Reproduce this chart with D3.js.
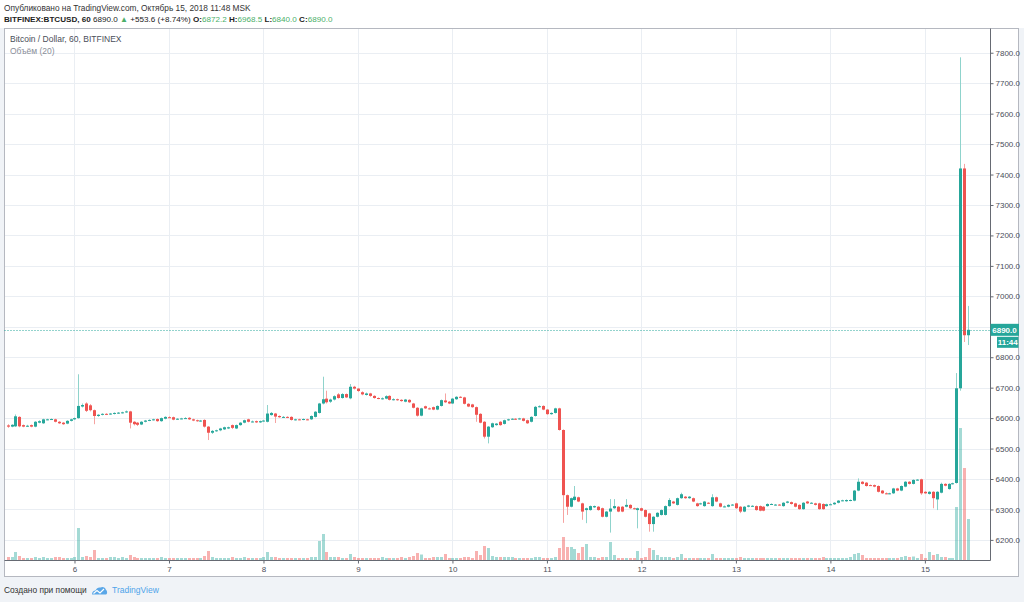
<!DOCTYPE html>
<html><head><meta charset="utf-8">
<script src="https://cdn.jsdelivr.net/npm/d3@7"></script>
<style>
html,body{margin:0;padding:0;background:#f1f3f6;}
svg{display:block;font-family:"Liberation Sans",Arial,sans-serif;}
</style></head><body>
<svg id="chart" width="1024" height="602"></svg>
<script>
// ---- DATA (hourly candles, BITFINEX:BTCUSD, 60) ----
const startUTC = Date.UTC(2018, 9, 5, 7); // first candle: Oct 5, 07:00
const openV = [
6576,6572,6573,6604,6577,6574,6577,6572,6585,6583,
6595,6596,6596,6588,6585,6582,6591,6596,6600,6638,
6648,6642,6626,6607,6611,6614,6613,6615,6616,6618,
6620,6622,6588,6585,6579,6588,6592,6594,6597,6590,
6598,6603,6603,6596,6598,6599,6601,6596,6593,6590,
6594,6572,6552,6558,6560,6563,6566,6577,6566,6577,
6585,6596,6588,6590,6586,6590,6588,6610,6615,6607,
6603,6604,6604,6594,6596,6595,6596,6596,6604,6617,
6648,6664,6654,6661,6678,6666,6679,6665,6703,6697,
6685,6676,6681,6673,6666,6664,6664,6673,6661,6662,
6660,6654,6660,6648,6634,6608,6639,6632,6636,6628,
6640,6658,6654,6648,6662,6670,6668,6647,6645,6636,
6614,6588,6539,6570,6577,6588,6581,6593,6596,6598,
6597,6599,6593,6588,6607,6637,6640,6628,6613,6617,
6632,6561,6347,6309,6331,6340,6320,6298,6298,6307,
6309,6304,6276,6293,6304,6309,6309,6309,6315,6304,
6298,6304,6298,6287,6252,6276,6282,6282,6311,6326,
6315,6337,6342,6337,6337,6320,6318,6311,6322,6311,
6340,6320,6309,6309,6315,6320,6309,6293,6309,6311,
6311,6311,6309,6311,6317,6315,6316,6311,6322,6324,
6320,6315,6301,6326,6322,6320,6320,6318,6311,6317,
6317,6322,6329,6327,6329,6329,6362,6391,6388,6380,
6380,6377,6362,6353,6352,6353,6369,6362,6375,6391,
6384,6397,6399,6358,6351,6358,6333,6355,6384,6367,
6384,6387,6698,7420,6872.2];
const highV = [
6580,6580,6612,6606,6579,6578,6579,6590,6593,6598,
6598,6599,6598,6590,6587,6593,6598,6602,6744,6648,
6652,6646,6628,6613,6616,6616,6617,6619,6620,6621,
6625,6624,6590,6587,6590,6594,6596,6598,6599,6602,
6606,6606,6605,6600,6601,6603,6603,6598,6595,6594,
6596,6574,6561,6562,6568,6572,6572,6579,6579,6587,
6595,6598,6592,6592,6592,6594,6643,6620,6617,6609,
6607,6606,6606,6598,6598,6599,6598,6609,6623,6650,
6736,6690,6664,6675,6682,6682,6681,6712,6706,6699,
6688,6684,6683,6675,6668,6668,6675,6675,6665,6664,
6662,6663,6662,6650,6636,6634,6641,6635,6638,6642,
6661,6681,6656,6666,6672,6672,6670,6649,6647,6638,
6616,6590,6574,6585,6584,6590,6595,6598,6600,6600,
6601,6601,6595,6606,6640,6642,6642,6630,6619,6634,
6634,6563,6349,6339,6377,6342,6322,6306,6313,6313,
6311,6306,6295,6334,6334,6311,6311,6334,6317,6306,
6306,6306,6300,6289,6278,6291,6300,6313,6337,6328,
6339,6355,6344,6344,6339,6322,6322,6328,6324,6350,
6342,6322,6313,6317,6318,6322,6311,6311,6315,6314,
6313,6313,6311,6320,6320,6318,6318,6324,6328,6326,
6322,6317,6324,6328,6324,6322,6322,6320,6319,6320,
6324,6331,6332,6333,6333,6364,6402,6393,6390,6382,
6382,6379,6364,6356,6355,6371,6371,6379,6393,6393,
6399,6400,6401,6360,6360,6360,6360,6388,6386,6386,
6388,6748,7785,7435,6968.5];
const lowV = [
6568,6570,6571,6570,6570,6571,6570,6570,6583,6581,
6593,6594,6586,6581,6578,6580,6589,6594,6598,6635,
6620,6622,6580,6604,6609,6610,6611,6612,6614,6615,
6617,6566,6576,6574,6577,6586,6590,6592,6588,6588,
6596,6600,6593,6594,6596,6597,6594,6590,6588,6588,
6569,6528,6548,6555,6557,6561,6564,6564,6564,6575,
6583,6586,6586,6584,6584,6588,6586,6608,6584,6601,
6601,6600,6592,6592,6593,6593,6593,6594,6602,6615,
6645,6648,6650,6658,6664,6664,6666,6662,6694,6686,
6675,6674,6670,6664,6662,6661,6662,6658,6658,6657,
6654,6652,6650,6632,6605,6606,6630,6628,6626,6626,
6638,6650,6646,6646,6660,6666,6645,6636,6634,6588,
6583,6533,6517,6568,6575,6575,6579,6591,6594,6594,
6595,6589,6581,6586,6605,6635,6626,6611,6611,6615,
6559,6256,6282,6307,6329,6324,6266,6255,6296,6305,
6296,6274,6274,6224,6302,6291,6291,6307,6302,6300,
6238,6294,6274,6227,6227,6274,6280,6280,6309,6318,
6313,6335,6335,6335,6324,6309,6316,6309,6318,6309,
6324,6307,6307,6307,6313,6302,6288,6291,6307,6309,
6296,6294,6294,6309,6315,6313,6313,6309,6320,6316,
6307,6299,6299,6318,6320,6313,6299,6299,6309,6315,
6315,6320,6327,6325,6327,6327,6360,6382,6375,6377,
6373,6356,6351,6350,6350,6351,6360,6360,6373,6382,
6382,6395,6348,6351,6349,6304,6298,6353,6376,6365,
6382,6385,6690,6850,6840];
const closeV = [
6572,6578,6606,6573,6572,6575,6572,6588,6590,6596,
6596,6597,6588,6583,6580,6591,6596,6600,6640,6643,
6624,6626,6607,6611,6614,6613,6615,6617,6618,6619,
6622,6585,6580,6578,6588,6592,6594,6596,6590,6600,
6604,6602,6595,6598,6599,6600,6596,6592,6590,6592,
6572,6552,6558,6560,6566,6570,6570,6568,6577,6585,
6593,6588,6589,6586,6590,6592,6615,6617,6605,6603,
6604,6603,6594,6596,6595,6597,6595,6607,6621,6648,
6662,6652,6661,6672,6666,6679,6668,6703,6697,6689,
6678,6681,6673,6666,6664,6665,6672,6660,6662,6660,
6656,6661,6652,6634,6608,6632,6632,6630,6628,6640,
6659,6652,6648,6664,6670,6668,6647,6638,6636,6611,
6585,6539,6572,6583,6582,6577,6593,6596,6598,6596,
6599,6591,6583,6604,6637,6639,6628,6613,6617,6632,
6561,6347,6309,6337,6342,6326,6293,6304,6311,6311,
6298,6276,6293,6303,6311,6293,6293,6315,6304,6302,
6304,6296,6276,6252,6276,6289,6298,6311,6331,6320,
6337,6350,6337,6342,6326,6311,6320,6326,6320,6340,
6326,6309,6310,6315,6316,6304,6293,6309,6313,6312,
6298,6296,6296,6318,6318,6316,6315,6322,6326,6318,
6309,6301,6322,6320,6322,6315,6301,6301,6317,6317,
6322,6329,6330,6331,6331,6362,6391,6384,6377,6379,
6375,6358,6353,6352,6353,6369,6362,6377,6391,6384,
6397,6398,6353,6353,6358,6337,6358,6384,6378,6384,
6386,6698,7420,6872.2,6890];
const volumeV = [
120,120,320,160,80,80,80,120,80,120,
80,80,120,120,80,80,80,120,1280,120,
160,120,400,80,80,80,120,120,80,120,
80,200,120,80,80,80,80,80,80,120,
80,80,80,80,80,80,80,80,80,80,
160,360,120,80,80,80,80,120,80,80,
120,80,80,80,80,120,320,120,120,80,
80,80,80,80,80,80,80,120,120,760,
1040,320,120,120,120,80,80,240,120,80,
80,80,80,80,80,120,80,80,80,80,
120,80,120,160,280,220,80,80,120,120,
120,240,80,80,80,80,120,120,80,360,
200,560,480,160,120,120,120,120,120,80,
80,80,80,80,120,120,80,80,80,120,
480,920,520,520,440,280,520,640,120,120,
80,120,120,720,200,80,80,80,80,80,
360,80,120,480,400,200,120,120,120,80,
120,240,80,80,80,80,80,80,80,240,
80,80,80,80,80,80,120,80,80,80,
80,80,80,80,80,80,80,80,80,80,
80,80,80,80,80,80,80,120,80,80,
80,80,80,80,120,240,280,200,80,80,
80,80,80,80,80,80,80,120,160,120,
140,80,240,80,320,200,240,120,120,80,
80,2120,5280,3680,1640];
const dayTickLabels = ["6","7","8","9","10","11","12","13","14","15"];
const priceTicks = [6200,6300,6400,6500,6600,6700,6800,6900,7000,7100,7200,7300,7400,7500,7600,7700,7800];
const hiddenPriceLabels = [6900]; // covered by the last-price tag
const lastPrice = 6890.0;
const headerLine1 = "Опубликовано на TradingView.com, Октябрь 15, 2018 11:48 MSK";

// ---- LAYOUT ----
const W = 1024, H = 602;
const plot = {left: 4.5, right: 990, top: 28.5, bottom: 560.5};
const UP = "#26a69a", DOWN = "#ef5350";
const UPW = "#8fd3cc", DOWNW = "#f6a3a1";
const UPV = "rgba(38,166,154,0.42)", DOWNV = "rgba(239,83,80,0.45)";
const GRID = "#eaeef3";
const TXT = "#4a4e59";

const candles = openV.map((o, i) => ({
  t: new Date(startUTC + i * 3600e3),
  o, h: highV[i], l: lowV[i], c: closeV[i], v: volumeV[i]
}));

const svg = d3.select("#chart");

// page backgrounds
svg.append("rect").attr("width", W).attr("height", H).attr("fill", "#f0f3f7");
svg.append("rect").attr("width", W).attr("height", 28).attr("fill", "#ffffff");
svg.append("rect").attr("x", 4.5).attr("y", 28.5).attr("width", 1014).attr("height", 548)
  .attr("fill", "#ffffff").attr("stroke", "#b5b8c0");

// scales
const hour = 3600e3;
const x = d3.scaleUtc()
  .domain([new Date(startUTC - 0.78 * hour), new Date(startUTC + 249.54 * hour)])
  .range([plot.left, plot.right]);
const y = d3.scaleLinear().domain([6134, 7878]).range([560, 29]);
const vH = d3.scaleLinear().domain([0, 5280]).range([0, 132]);

// clip
svg.append("clipPath").attr("id", "clip").append("rect")
  .attr("x", plot.left + 0.5).attr("y", plot.top + 0.5)
  .attr("width", plot.right - plot.left - 0.5).attr("height", plot.bottom - plot.top - 1);

const dayTicks = d3.utcDay.range(new Date(Date.UTC(2018, 9, 6)), new Date(Date.UTC(2018, 9, 16)));

// grid
const grid = svg.append("g").attr("clip-path", "url(#clip)");
grid.selectAll("line.v").data(dayTicks).join("line")
  .attr("x1", d => Math.round(x(d)) + 0.5).attr("x2", d => Math.round(x(d)) + 0.5)
  .attr("y1", plot.top).attr("y2", plot.bottom)
  .attr("stroke", GRID).attr("stroke-width", 1);
grid.selectAll("line.h").data(priceTicks).join("line")
  .attr("x1", plot.left).attr("x2", plot.right)
  .attr("y1", d => Math.round(y(d)) + 0.5).attr("y2", d => Math.round(y(d)) + 0.5)
  .attr("stroke", GRID).attr("stroke-width", 1);

const g = svg.append("g").attr("clip-path", "url(#clip)");
const bw = 3;

// volume
g.selectAll("rect.vol").data(candles).join("rect")
  .attr("x", d => Math.round(x(d.t)) + 0.5 - bw / 2).attr("width", bw)
  .attr("y", d => 560 - vH(d.v)).attr("height", d => vH(d.v))
  .attr("fill", d => d.c >= d.o ? UPV : DOWNV);

// wicks
g.selectAll("line.wick").data(candles).join("line")
  .attr("x1", d => Math.round(x(d.t)) + 0.5).attr("x2", d => Math.round(x(d.t)) + 0.5)
  .attr("y1", d => y(d.h)).attr("y2", d => y(d.l))
  .attr("stroke", d => d.c >= d.o ? UPW : DOWNW).attr("stroke-width", 1);

// bodies
g.selectAll("rect.body").data(candles).join("rect")
  .attr("x", d => Math.round(x(d.t)) + 0.5 - bw / 2).attr("width", bw)
  .attr("y", d => y(Math.max(d.o, d.c)))
  .attr("height", d => Math.max(1, Math.abs(y(d.o) - y(d.c))))
  .attr("fill", d => d.c >= d.o ? UP : DOWN);

// last price dotted line
svg.append("line").attr("x1", plot.left).attr("x2", plot.right)
  .attr("y1", Math.round(y(lastPrice)) + 0.5).attr("y2", Math.round(y(lastPrice)) + 0.5)
  .attr("stroke", UP).attr("stroke-width", 1).attr("stroke-dasharray", "1,2");

// axes lines
svg.append("line").attr("x1", plot.left).attr("x2", plot.right + 0.5)
  .attr("y1", plot.bottom).attr("y2", plot.bottom).attr("stroke", "#666a73");
svg.append("line").attr("x1", plot.right + 0.5).attr("x2", plot.right + 0.5)
  .attr("y1", plot.top).attr("y2", plot.bottom).attr("stroke", "#666a73");

// price axis
const yAxis = d3.axisRight(y).tickValues(priceTicks.filter(p => !hiddenPriceLabels.includes(p)))
  .tickSize(3).tickPadding(2).tickFormat(d => d3.format(".1f")(d));
const ya = svg.append("g").attr("transform", `translate(${plot.right + 0.5},0)`).call(yAxis);
ya.select(".domain").remove();
ya.selectAll("line").attr("stroke", "#666a73");
ya.selectAll("text").attr("fill", TXT).attr("font-size", 8)
  .attr("font-family", "Liberation Sans, Arial, sans-serif");

// time axis
const xAxis = d3.axisBottom(x).tickValues(dayTicks).tickSize(3).tickPadding(3)
  .tickFormat((d, i) => dayTickLabels[i]);
const xa = svg.append("g").attr("transform", `translate(0,${plot.bottom})`).call(xAxis);
xa.select(".domain").remove();
xa.selectAll("line").attr("stroke", "#666a73");
xa.selectAll("text").attr("fill", TXT).attr("font-size", 8)
  .attr("font-family", "Liberation Sans, Arial, sans-serif");

// last price labels
const ly = y(lastPrice);
svg.append("rect").attr("x", 990.5).attr("y", ly - 6).attr("width", 28.5).attr("height", 12).attr("fill", UP);
svg.append("text").attr("x", 1004.5).attr("y", ly + 3).attr("text-anchor", "middle")
  .attr("fill", "#fff").attr("font-size", 8).attr("font-weight", "bold").text(d3.format(".1f")(lastPrice));
svg.append("rect").attr("x", 997).attr("y", ly + 7).attr("width", 21.5).attr("height", 11).attr("fill", UP);
svg.append("text").attr("x", 1007.7).attr("y", ly + 15.5).attr("text-anchor", "middle")
  .attr("fill", "#fff").attr("font-size", 8).attr("font-weight", "bold").text("11:44");

// header
svg.append("text").attr("x", 4).attr("y", 10.5).attr("font-size", 8.3).attr("fill", "#333").text(headerLine1);
const GREENT = "#4caf6a";
const h2 = svg.append("text").attr("x", 4).attr("y", 21.5).attr("font-size", 8.1).attr("fill", "#222");
h2.append("tspan").attr("font-weight", "bold").text("BITFINEX:BTCUSD, 60");
h2.append("tspan").text(" 6890.0 ");
h2.append("tspan").attr("fill", GREENT).text("▲");
h2.append("tspan").text(" +553.6 (+8.74%) ");
[["O:", "6872.2"], ["H:", "6968.5"], ["L:", "6840.0"], ["C:", "6890.0"]].forEach(([k, v]) => {
  h2.append("tspan").attr("font-weight", "bold").text(k);
  h2.append("tspan").attr("fill", GREENT).text(v + " ");
});

// legend inside pane
svg.append("text").attr("x", 10).attr("y", 42).attr("font-size", 8.5).attr("fill", "#4a4e59")
  .text("Bitcoin / Dollar, 60, BITFINEX");
svg.append("text").attr("x", 10).attr("y", 54).attr("font-size", 8.5).attr("fill", "#8a8e99")
  .text("Объём (20)");

// footer
svg.append("text").attr("x", 4).attr("y", 593).attr("font-size", 8.4).attr("fill", "#333")
  .text("Создано при помощи");
const logo = svg.append("g").attr("transform", "translate(92,586)");
logo.append("path")
  .attr("d", "M0,8.5 C0,6 1.5,4.5 3.5,4.5 C4.5,2 6.5,1 8.5,1.5 C10.5,0 13.5,1.5 14,4 C15.5,4.5 15.5,8.5 14,8.5 Z")
  .attr("fill", "#5aa7e8");
logo.append("path").attr("d", "M1.5,7.5 L5,4.5 L8,7 L12,3").attr("fill", "none")
  .attr("stroke", "#ffffff").attr("stroke-width", 1.1);
svg.append("text").attr("x", 112).attr("y", 593).attr("font-size", 8.5).attr("fill", "#4ea3ea")
  .text("TradingView");
</script>
</body></html>
